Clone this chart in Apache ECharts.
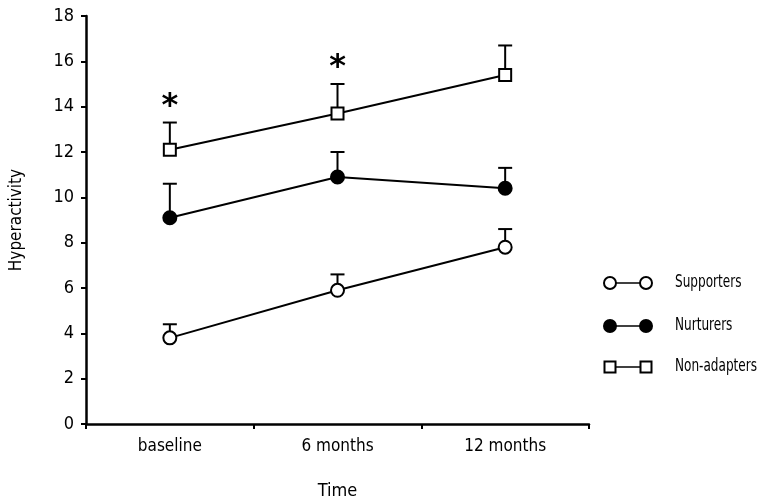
<!DOCTYPE html>
<html>
<head>
<meta charset="utf-8">
<script src="https://cdn.jsdelivr.net/npm/echarts@6/dist/echarts.min.js"></script>
<style>html,body{margin:0;padding:0;background:#fff;}#c{width:760px;height:503px;}</style>
</head>
<body>
<div id="c"></div>
<script>
var categories = ['baseline', '6 months', '12 months'];
var yTicks = [0, 2, 4, 6, 8, 10, 12, 14, 16, 18];
var supporters = [3.8, 5.9, 7.8];
var supportersErr = [4.4, 6.6, 8.6];
var nurturers = [9.1, 10.9, 10.4];
var nurturersErr = [10.6, 12.0, 11.3];
var nonAdapters = [12.1, 13.7, 15.4];
var nonAdaptersErr = [13.3, 15.0, 16.7];
var asteriskCats = [0, 1];
var asteriskY = [14.0, 15.7];
var legendNames = ['Supporters', 'Nurturers', 'Non-adapters'];

var FONT = '"DejaVu Sans Condensed","DejaVu Sans",sans-serif';

function errSeries(vals, tops) {
  return {
    type: 'custom',
    z: 1,
    silent: true,
    data: vals.map(function (v, i) { return [i, v, tops[i]]; }),
    renderItem: function (params, api) {
      var p0 = api.coord([api.value(0), api.value(1)]);
      var p1 = api.coord([api.value(0), api.value(2)]);
      var hw = 7;
      return {
        type: 'group',
        children: [
          { type: 'line', shape: { x1: p0[0], y1: p0[1], x2: p1[0], y2: p1[1] }, style: { stroke: '#000', lineWidth: 2 } },
          { type: 'line', shape: { x1: p1[0] - hw, y1: p1[1], x2: p1[0] + hw, y2: p1[1] }, style: { stroke: '#000', lineWidth: 2 } }
        ]
      };
    }
  };
}

var chart = echarts.init(document.getElementById('c'), null, { renderer: 'canvas' });

var legendRows = [
  { y: 283, shape: 'circle', fill: '#fff' },
  { y: 326, shape: 'circle', fill: '#000' },
  { y: 367, shape: 'rect', fill: '#fff' }
];
var graphics = [];
legendRows.forEach(function (r, i) {
  graphics.push({ type: 'line', shape: { x1: 610, y1: r.y, x2: 646, y2: r.y }, style: { stroke: '#000', lineWidth: 1.5 } });
  [610, 646].forEach(function (cx) {
    if (r.shape === 'circle') {
      graphics.push({ type: 'circle', shape: { cx: cx, cy: r.y, r: 6 }, style: { fill: r.fill, stroke: '#000', lineWidth: 2 } });
    } else {
      graphics.push({ type: 'rect', shape: { x: cx - 5.5, y: r.y - 5.5, width: 11, height: 11 }, style: { fill: r.fill, stroke: '#000', lineWidth: 2 } });
    }
  });
  graphics.push({ type: 'text', x: 675, y: r.y, scaleX: 0.79, style: { text: legendNames[i], fill: '#000', font: '17px ' + FONT, textVerticalAlign: 'middle' } });
});

function lineSeries(name, data, symbol, fill, size) {
  return {
    name: name,
    type: 'line',
    z: 3,
    data: data,
    symbol: symbol,
    symbolSize: size,
    showAllSymbol: true,
    lineStyle: { color: '#000', width: 2 },
    itemStyle: { color: fill, borderColor: '#000', borderWidth: 2, opacity: 1 },
    emphasis: { disabled: true },
    animation: false
  };
}

chart.setOption({
  backgroundColor: '#fff',
  animation: false,
  grid: { left: 86, right: 171, top: 16, bottom: 79, containLabel: false, outerBoundsMode: 'none' },
  xAxis: {
    type: 'category',
    data: categories,
    boundaryGap: true,
    name: 'Time',
    nameLocation: 'middle',
    nameGap: 58,
    nameTextStyle: { color: '#000', fontSize: 18, fontFamily: FONT },
    axisLine: { lineStyle: { color: '#000', width: 2.5 } },
    axisTick: { show: true, length: 5, lineStyle: { color: '#000', width: 2 } },
    axisLabel: { color: '#000', fontSize: 17, fontFamily: FONT, margin: 14 },
    splitLine: { show: false }
  },
  yAxis: {
    type: 'value',
    min: yTicks[0],
    max: yTicks[yTicks.length - 1],
    interval: yTicks[1] - yTicks[0],
    name: 'Hyperactivity',
    nameLocation: 'middle',
    nameGap: 61,
    nameRotate: 90,
    nameTextStyle: { color: '#000', fontSize: 17, fontFamily: FONT },
    axisLine: { show: true, lineStyle: { color: '#000', width: 2.5 } },
    axisTick: { show: true, length: 5, lineStyle: { color: '#000', width: 2 } },
    axisLabel: { color: '#000', fontSize: 18, fontFamily: FONT, margin: 12 },
    splitLine: { show: false }
  },
  series: [
    errSeries(supporters, supportersErr),
    errSeries(nurturers, nurturersErr),
    errSeries(nonAdapters, nonAdaptersErr),
    lineSeries('Supporters', supporters, 'circle', '#fff', 13),
    lineSeries('Nurturers', nurturers, 'circle', '#000', 13),
    lineSeries('Non-adapters', nonAdapters, 'rect', '#fff', 12),
    {
      type: 'custom',
      silent: true,
      data: asteriskCats.map(function (c, i) { return [c, asteriskY[i]]; }),
      renderItem: function (params, api) {
        var p = api.coord([api.value(0), api.value(1)]);
        return { type: 'text', x: p[0], y: p[1], style: { text: '*', fill: '#000', font: 'bold 32px "DejaVu Sans",sans-serif', textAlign: 'center', textVerticalAlign: 'middle' } };
      }
    }
  ],
  graphic: graphics
});
</script>
</body>
</html>
